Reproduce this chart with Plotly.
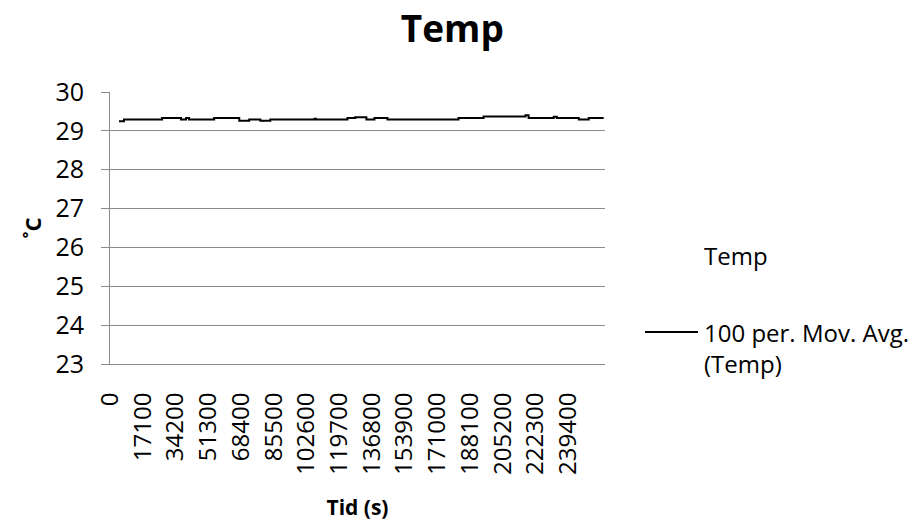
import plotly.graph_objects as go

# 100-period moving average of the temperature log (step change points)
ma_time_s = [4700, 7300, 27200, 37100, 39700, 41300, 54400, 67500, 72700, 78500,
             83700, 106800, 107600, 124000, 128100, 133900, 138100, 144900, 182000,
             195100, 217000, 218600, 231700, 233300, 244800, 250000, 257800]
ma_temp_c = [29.25, 29.29, 29.33, 29.29, 29.33, 29.29, 29.33, 29.26, 29.29, 29.26,
             29.29, 29.31, 29.29, 29.33, 29.35, 29.29, 29.33, 29.29, 29.33,
             29.37, 29.40, 29.33, 29.36, 29.33, 29.29, 29.33, 29.33]

x_tick_vals = [0, 17100, 34200, 51300, 68400, 85500, 102600, 119700, 136800,
               153900, 171000, 188100, 205200, 222300, 239400]
y_tick_vals = [23, 24, 25, 26, 27, 28, 29, 30]

FONT = "'Open Sans', 'Noto Sans', sans-serif"
GRID = "#8a8a8a"

fig = go.Figure()
fig.add_trace(go.Scatter(
    x=ma_time_s, y=ma_temp_c, mode="lines", line=dict(color="black", width=2, shape="hv"),
    name="100 per. Mov. Avg. (Temp)", showlegend=False,
))

fig.update_layout(
    width=912, height=527,
    margin=dict(l=110, r=307, t=92, b=163),
    paper_bgcolor="white", plot_bgcolor="white",
    font=dict(family=FONT, color="black", size=24),
    title=dict(text="<b>Temp</b>", x=0.496, xanchor="center", y=0.944, yanchor="middle",
               font=dict(size=37, family=FONT)),
    xaxis=dict(
        range=[0, 258500], tickmode="array", tickvals=x_tick_vals,
        ticktext=[str(v) for v in x_tick_vals], tickangle=-90,
        showgrid=False, zeroline=False, showline=True, linecolor=GRID, linewidth=1,
        ticks="", ticklabelstandoff=18, tickfont=dict(size=24),
        title=dict(text="<b>Tid (s)</b>", font=dict(size=21), standoff=26),
    ),
    yaxis=dict(
        range=[23, 30], tickmode="array", tickvals=y_tick_vals,
        showgrid=True, gridcolor=GRID, gridwidth=1, zeroline=False,
        showline=True, linecolor=GRID, linewidth=1,
        ticks="outside", ticklen=8, tickcolor=GRID, ticklabelstandoff=12,
        tickfont=dict(size=25),
        title=dict(text="<b>˚C</b>", font=dict(size=22), standoff=7),
    ),
)

# legend block on the right
fig.add_annotation(text="Temp", xref="paper", yref="paper",
                   x=(702 - 110) / 495, y=(364 - 255) / 272, xanchor="left", yanchor="middle",
                   showarrow=False, font=dict(size=24))
fig.add_annotation(text="100 per. Mov. Avg.<br>(Temp)", xref="paper", yref="paper",
                   x=(702 - 110) / 495, y=(364 - 347.5) / 272, xanchor="left", yanchor="middle",
                   align="left", showarrow=False, font=dict(size=24))
fig.add_shape(type="line", xref="paper", yref="paper",
              x0=(645 - 110) / 495, x1=(698 - 110) / 495,
              y0=(364 - 332) / 272, y1=(364 - 332) / 272,
              line=dict(color="black", width=2))

fig.write_html("out.html")
